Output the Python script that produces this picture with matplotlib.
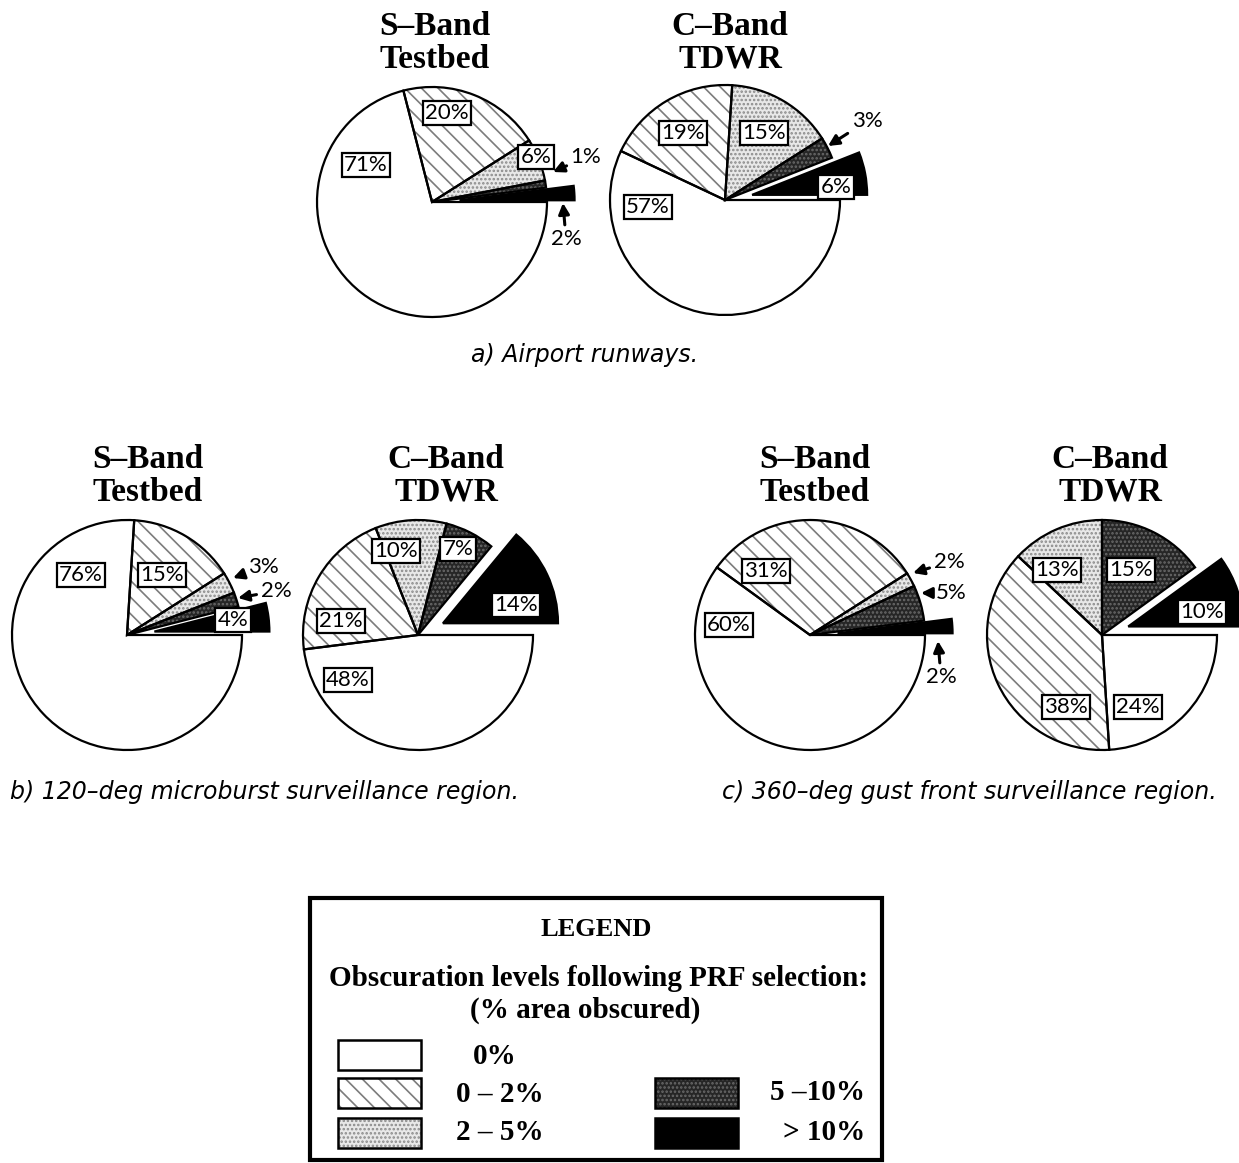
#!/usr/bin/env python3
"""
Obscuration pie charts: S-band testbed vs C-band TDWR after PRF selection.
"""

import matplotlib.pyplot as plt
from matplotlib.patches import Rectangle

plt.rcParams['hatch.linewidth'] = 1.2

W, H = 1239, 1163  # canvas in pixels, axes uses the same units

# Obscuration categories (legend order)
categories = ['0%', '0 – 2%', '2 – 5%', '5 –10%', '> 10%']

# % of area per category, in legend order
runways_sband = [71, 20, 6, 1, 2]
runways_cband = [57, 19, 15, 3, 6]
microburst_sband = [76, 15, 3, 2, 4]
microburst_cband = [48, 21, 10, 7, 14]
gustfront_sband = [60, 31, 2, 5, 2]
gustfront_cband = [24, 38, 13, 15, 10]

radar_titles = ['S–Band\nTestbed', 'C–Band\nTDWR']
captions = ['a) Airport runways.',
            'b) 120–deg microburst surveillance region.',
            'c) 360–deg gust front surveillance region.']

# fill styles per category
faces = ['white', 'white', '#e8e8e8', '#262626', 'black']
hatches = [None, '\\\\', '....', '....', None]
hatch_colors = ['white', '#7c7c7c', '#8a8a8a', '#6a6a6a', 'black']

LABEL_FONT = 'Lato'
SERIF = 'Liberation Serif'
CAPTION_FONT = 'DejaVu Sans'


def Y(y):
    return H - y


fig = plt.figure(figsize=(W / 100, H / 100), dpi=100)
ax = fig.add_axes([0, 0, 1, 1])

R = 115
EXPLODE = 0.24 * R

# pie layout: (values, centre, title position, labels)
# labels: (category, text position, arrow tip or None -> boxed label)
pies = [
    (runways_sband, (432, 202), (435, 43), [
        (0, (366, 165), None), (1, (447, 113), None), (2, (536, 157), None),
        (3, (586, 157), (553, 172)), (4, (566, 239), (563, 203))]),
    (runways_cband, (725, 200), (730, 43), [
        (0, (648, 207), None), (1, (683, 133), None), (2, (764, 133), None),
        (3, (867, 121), (828, 146)), (4, (836, 187), None)]),
    (microburst_sband, (127, 635), (148, 476), [
        (0, (81, 575), None), (1, (162, 575), None),
        (2, (263, 567), (233, 578)), (3, (276, 591), (238, 598)),
        (4, (233, 620), None)]),
    (microburst_cband, (418, 635), (446, 476), [
        (0, (348, 680), None), (1, (341, 621), None), (2, (396, 551), None),
        (3, (458, 549), None), (4, (516, 605), None)]),
    (gustfront_sband, (810, 635), (815, 476), [
        (0, (729, 625), None), (1, (766, 571), None),
        (2, (949, 562), (913, 573)), (3, (951, 593), (921, 593)),
        (4, (941, 677), (938, 641))]),
    (gustfront_cband, (1102, 635), (1110, 476), [
        (0, (1138, 707), None), (1, (1066, 707), None), (2, (1057, 570), None),
        (3, (1131, 570), None), (4, (1202, 612), None)]),
]

for i, (vals, (cx, cy), (tx, ty), labels) in enumerate(pies):
    # wedges counter-clockwise from east: >10%, 5-10%, 2-5%, 0-2%, 0%
    order = [4, 3, 2, 1, 0]
    v = [vals[k] for k in order]
    explode = [EXPLODE if k == 4 else 0 for k in order]

    fills, _ = ax.pie(v, center=(cx, Y(cy)), radius=R, startangle=0,
                      counterclock=True, explode=explode,
                      colors=[faces[k] for k in order],
                      hatch=[hatches[k] or '' for k in order],
                      wedgeprops=dict(linewidth=0))
    for w, k in zip(fills, order):
        w.set_edgecolor(hatch_colors[k])
        w.set_linewidth(0)

    ax.pie(v, center=(cx, Y(cy)), radius=R, startangle=0,
           counterclock=True, explode=explode, colors=['none'] * 5,
           wedgeprops=dict(linewidth=1.6, edgecolor='black'))

    ax.text(tx, Y(ty), radar_titles[i % 2], ha='center', va='center',
            fontsize=24, fontweight='bold', family=SERIF, linespacing=1.08)

    for k, (lx, ly), tip in labels:
        txt = f'{vals[k]}%'
        if tip is None:
            ax.text(lx, Y(ly), txt, ha='center', va='center', fontsize=16,
                    family=LABEL_FONT, zorder=5,
                    bbox=dict(boxstyle='square,pad=0.1', fc='white',
                              ec='black', lw=1.6))
        else:
            ax.annotate(txt, xy=(tip[0], Y(tip[1])), xytext=(lx, Y(ly)),
                        ha='center', va='center', fontsize=16,
                        family=LABEL_FONT, zorder=5,
                        arrowprops=dict(arrowstyle='-|>', color='black',
                                        lw=2.2, mutation_scale=16,
                                        shrinkA=1, shrinkB=0))

# captions
ax.text(585, Y(355), captions[0], ha='center', va='center', fontsize=17,
        style='italic', family=CAPTION_FONT)
ax.text(10, Y(792), captions[1], ha='left', va='center', fontsize=17,
        style='italic', family=CAPTION_FONT)
ax.text(722, Y(792), captions[2], ha='left', va='center', fontsize=17,
        style='italic', family=CAPTION_FONT)

# legend panel
ax.add_patch(Rectangle((310, Y(1160)), 572, 262, fc='none', ec='black',
                       lw=3, zorder=6))
ax.text(596, Y(929), 'LEGEND', ha='center', va='center', fontsize=19,
        fontweight='bold', family=SERIF)
ax.text(599, Y(978), 'Obscuration levels following PRF selection:',
        ha='center', va='center', fontsize=21, fontweight='bold', family=SERIF)
ax.text(585, Y(1010), '(% area obscured)', ha='center', va='center',
        fontsize=21, fontweight='bold', family=SERIF)

swatches = [((338, 1040), (495, 1057)), ((338, 1078), (500, 1095)),
            ((338, 1118), (500, 1133)), ((655, 1078), (818, 1093)),
            ((655, 1118), (824, 1133))]
for k, ((sx, sy), (lx, ly)) in enumerate(swatches):
    sw = Rectangle((sx, Y(sy + 30)), 83, 30, fc=faces[k],
                   hatch=hatches[k], lw=0)
    sw.set_edgecolor(hatch_colors[k])
    sw.set_linewidth(0)
    ax.add_patch(sw)
    ax.add_patch(Rectangle((sx, Y(sy + 30)), 83, 30, fc='none',
                           ec='black', lw=1.8))
    ax.text(lx, Y(ly), categories[k], ha='center', va='center',
            fontsize=21, fontweight='bold', family=SERIF)

ax.set_xlim(0, W)
ax.set_ylim(0, H)
ax.set_aspect('auto')
ax.axis('off')

plt.savefig('out.png', dpi=100, facecolor='white')
plt.close()
